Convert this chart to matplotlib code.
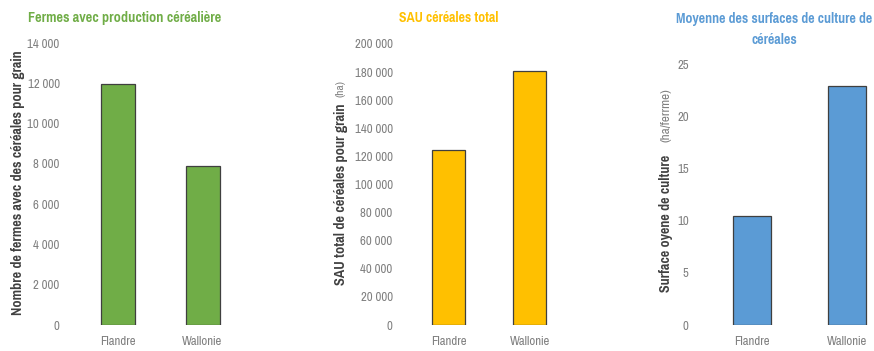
import os
import matplotlib
matplotlib.use("Agg")
import matplotlib.pyplot as plt
from matplotlib.ticker import FuncFormatter, MultipleLocator
from matplotlib import font_manager
from matplotlib.font_manager import FontProperties
import matplotlib.patheffects as pe

regions = ["Flandre", "Wallonie"]
farms = [11950, 7880]
sau_total = [124300, 181000]
avg_surface = [10.45, 22.95]

GREEN = "#70AD47"
GOLD = "#FFC000"
BLUE = "#5B9BD5"
TICK = "#808080"
LABEL = "#404040"

# Narrow faces: look for the font files directly
files = sorted({f.fname for f in font_manager.fontManager.ttflist})


def find(keys):
    for k in keys:
        for p in files:
            if k.lower() in os.path.basename(p).lower():
                return p
    return None


reg_file = find(["SansNarrow-Regular", "Narrow-Regular", "SansCondensed.ttf", "Narrow"])
bold_file = find(["SansNarrow-Bold.", "Narrow-Bold.", "SansCondensed-Bold.", "Condensed-Bold."])

REG_FP = FontProperties(fname=reg_file) if reg_file else FontProperties(family="DejaVu Sans")
BOLD_FX = False
if bold_file:
    BOLD_FP = FontProperties(fname=bold_file)
elif reg_file:
    BOLD_FP = FontProperties(fname=reg_file)
    BOLD_FX = True
else:
    BOLD_FP = FontProperties(family="DejaVu Sans", weight="bold")

W, H = 874, 351
fig = plt.figure(figsize=(W / 100, H / 100), dpi=100)


def px_axes(x0, y_top, x1, y_bot):
    return fig.add_axes([x0 / W, 1 - y_bot / H, (x1 - x0) / W, (y_bot - y_top) / H])


def thousands(v, _):
    return f"{int(v):,}".replace(",", " ")


def style(ax, ymax, step, fmt):
    ax.set_ylim(0, ymax)
    ax.yaxis.set_major_locator(MultipleLocator(step))
    ax.yaxis.set_major_formatter(FuncFormatter(fmt))
    for s in ax.spines.values():
        s.set_visible(False)
    ax.tick_params(axis="both", length=0, colors=TICK)
    ax.tick_params(axis="y", pad=11)
    ax.tick_params(axis="x", pad=8)
    for lab in ax.get_xticklabels() + ax.get_yticklabels():
        lab.set_fontproperties(REG_FP)
        lab.set_fontsize(10)
    ax.patch.set_alpha(0)


x = list(range(len(regions)))
bar_kw = dict(width=0.4, edgecolor="#3F3F3F", linewidth=0.9)

ax1 = px_axes(75, 43, 245, 325)
ax1.bar(x, farms, color=GREEN, **bar_kw)
ax1.set_xticks(x, regions)
ax1.set_xlim(-0.5, 1.5)
style(ax1, 14000, 2000, thousands)

ax2 = px_axes(408, 44, 570, 325)
ax2.bar(x, sau_total, color=GOLD, **bar_kw)
ax2.set_xticks(x, regions)
ax2.set_xlim(-0.5, 1.5)
style(ax2, 200000, 20000, thousands)

ax3 = px_axes(704, 64.3, 870, 325)
ax3.bar(x, avg_surface, color=BLUE, **bar_kw)
ax3.set_xticks(x, regions)
ax3.set_xlim(-0.5, 1.24)
style(ax3, 25, 5, lambda v, _: f"{int(v)}")

renderer = fig.canvas.get_renderer()


def ftext(px, py, s, length=None, heavy=False, size=11, **kw):
    """Place text at pixel coords; optionally fit its long side to `length` px."""
    fp = (BOLD_FP if heavy else REG_FP).copy()
    fp.set_size(size)
    t = fig.text(px / W, 1 - py / H, s, fontproperties=fp, **kw)
    if length:
        bb = t.get_window_extent(renderer)
        vertical = kw.get("rotation", 0) == 90
        cur = bb.height if vertical else bb.width
        t.set_fontsize(size * length / cur)
    if heavy and BOLD_FX:
        t.set_path_effects([pe.withStroke(linewidth=0.7, foreground=kw.get("color", "k"))])
    return t


title_kw = dict(heavy=True, ha="center", va="center")
ftext(124.5, 18, "Fermes avec production céréalière", 193, color=GREEN, **title_kw)
ftext(449, 18, "SAU céréales total", 100, color=GOLD, **title_kw)
t3 = ftext(774.5, 19, "Moyenne des surfaces de culture de", 197, color=BLUE, **title_kw)
ftext(774.5, 40, "céréales", size=t3.get_fontsize(), color=BLUE, **title_kw)

# Axis titles
lab_kw = dict(heavy=True, rotation=90, color=LABEL, ha="center", va="bottom")
ftext(18, 315, "Nombre de fermes avec des céréales pour grain", 265, **lab_kw)
ftext(341, 285, "SAU total de céréales pour grain", 183, **lab_kw)
ftext(341, 97, "(ha)", 17, size=9, color=TICK, rotation=90, ha="center", va="bottom")
ftext(666, 292, "Surface oyene de culture", 137, **lab_kw)
ftext(666, 142, "(ha/ferrme)", 54, size=9, color=TICK, rotation=90, ha="center", va="bottom")

fig.savefig("out.png", dpi=100, facecolor="white")
